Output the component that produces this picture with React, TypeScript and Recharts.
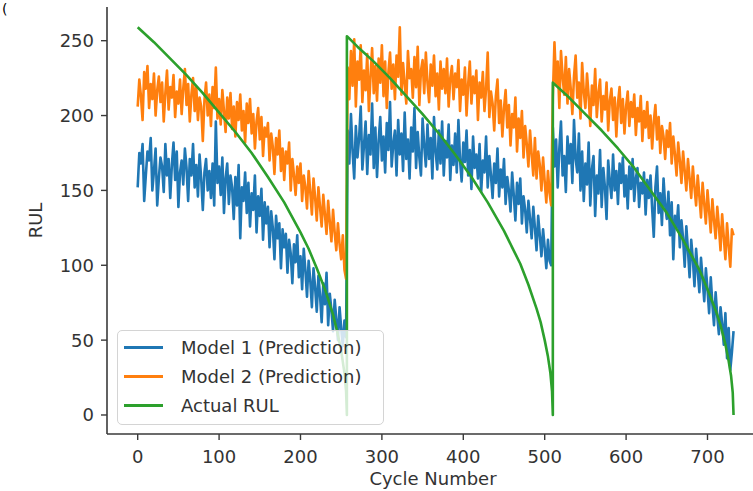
import { LineChart, Line, XAxis, YAxis, Legend } from "recharts";

const FONT = "'DejaVu Sans', sans-serif";
const AXIS = "#3a3a3a";
const TEXT = "#333";

// sampling grid of the two model predictions: one point every 2 cycles, three engines
const segStarts = [0, 258, 510];
const STEP = 2;

// Model 1 (blue)
const model1Seg1 = [
  152, 175, 168, 181, 143, 160, 176, 170, 185, 150,
  163, 178, 140, 158, 172, 166, 149, 181, 160, 171,
  145, 167, 182, 157, 176, 139, 162, 170, 154, 178,
  165, 143, 171, 160, 181, 152, 167, 146, 174, 158,
  137, 162, 171, 150, 163, 145, 168, 140, 196, 155,
  166, 147, 172, 135, 158, 168, 141, 160, 152, 131,
  159, 140, 167, 118, 152, 143, 162, 135, 155, 126,
  148, 137, 160, 122, 146, 133, 151, 117, 142, 128,
  139, 112, 136, 125, 104, 133, 118, 128, 98, 124,
  112, 121, 95, 117, 108, 88, 114, 102, 120, 92,
  106, 84, 111, 97, 79, 103, 90, 72, 98, 85,
  69, 93, 80, 62, 88, 74, 95, 60, 81, 70,
  56, 77, 64, 50, 72, 58, 46, 63, 52,
];
const model1Seg2 = [
  190, 168, 201, 176, 158, 193, 172, 185, 206, 164,
  180, 196, 161, 187, 174, 208, 165, 192, 159, 183,
  199, 170, 186, 162, 195, 177, 209, 166, 181, 190,
  160, 197, 174, 188, 163, 202, 171, 184, 158, 192,
  176, 205, 165, 189, 172, 160, 198, 180, 166, 194,
  171, 185, 158, 199, 176, 164, 190, 168, 196, 160,
  183, 172, 194, 157, 180, 167, 188, 162, 197, 170,
  156, 182, 169, 190, 160, 177, 151, 186, 165, 174,
  158, 181, 149, 170, 162, 186, 152, 173, 160, 145,
  168, 155, 178, 146, 164, 152, 171, 141, 159, 150,
  136, 162, 147, 130, 155, 141, 158, 128, 146, 137,
  122, 143, 131, 118, 139, 125, 110, 133, 120, 106,
  124, 112, 98, 117, 103, 100,
];
const model1Seg3 = [
  192, 166, 184, 152, 178, 196, 160, 173, 149, 186,
  168, 181, 155, 197, 171, 162, 188, 150, 176, 143,
  168, 154, 182, 140, 164, 173, 133, 160, 148, 177,
  139, 165, 152, 131, 170, 156, 145, 174, 150, 163,
  141, 168, 155, 172, 146, 160, 138, 166, 151, 171,
  143, 158, 165, 139, 155, 148, 162, 134, 157, 145,
  160, 138, 119, 152, 166, 135, 148, 127, 158, 140,
  131, 149, 120, 142, 104, 133, 125, 140, 112, 130,
  118, 99, 126, 110, 92, 117, 104, 86, 111, 96,
  82, 105, 91, 76, 98, 84, 68, 92, 74, 60,
  82, 66, 54, 72, 61, 47, 68, 38, 58, 30,
  42, 56,
];

// Model 2 (orange)
const model2Seg1 = [
  206, 224, 213, 197, 229, 218, 233, 205, 221, 211,
  228, 200, 217, 226, 209, 222, 196, 215, 230, 204,
  219, 212, 227, 199, 216, 208, 224, 201, 218, 231,
  207, 221, 196, 214, 225, 203, 219, 197, 212, 206,
  183, 210, 222, 200, 214, 193, 219, 205, 232, 198,
  211, 194, 217, 203, 189, 212, 198, 215, 191, 206,
  186, 209, 197, 214, 190, 203, 182, 208, 195, 211,
  188, 201, 178, 196, 205, 184, 199, 173, 192, 186,
  195, 170, 188, 179, 161, 185, 174, 190, 163, 178,
  157, 176, 168, 182, 150, 171, 160, 147, 166, 155,
  168, 143, 160, 152, 138, 163, 149, 134, 158, 145,
  130, 152, 139, 126, 147, 134, 121, 143, 129, 116,
  137, 122, 110, 128, 114, 104, 120, 97, 91,
];
const model2Seg2 = [
  232, 211, 243, 220, 251, 206, 236, 224, 247, 209,
  230, 217, 241, 203, 226, 245, 215, 233, 210, 238,
  222, 247, 213, 236, 205, 229, 242, 218, 234, 211,
  240, 226, 259, 214, 235, 221, 208, 243, 225, 231,
  212, 239, 219, 246, 207, 230, 237, 215, 242, 222,
  209, 234, 220, 240, 213, 228, 204, 236, 218, 231,
  215, 238, 206, 225, 233, 211, 228, 219, 237, 203,
  224, 214, 232, 200, 221, 236, 208, 226, 215, 230,
  197, 222, 212, 229, 203, 218, 242, 199, 216, 208,
  190, 213, 224, 195, 210, 186, 205, 217, 192, 207,
  180, 201, 192, 212, 176, 198, 185, 203, 172, 193,
  181, 166, 190, 174, 160, 185, 158, 176, 167, 150,
  172, 156, 142, 163, 148, 140,
];
const model2Seg3 = [
  212, 249, 221, 236, 205, 243, 226, 214, 239, 208,
  231, 218, 201, 226, 240, 212, 222, 198, 235, 216,
  205, 228, 213, 193, 220, 207, 231, 199, 215, 224,
  196, 213, 204, 222, 190, 210, 218, 197, 212, 186,
  208, 219, 195, 211, 188, 206, 216, 193, 209, 199,
  214, 187, 205, 196, 213, 183, 203, 192, 209, 185,
  200, 178, 196, 207, 184, 199, 175, 193, 186, 171,
  190, 179, 195, 168, 186, 174, 160, 182, 170, 155,
  176, 163, 150, 171, 158, 145, 166, 152, 140, 160,
  146, 132, 155, 141, 128, 150, 136, 122, 144, 130,
  118, 139, 126, 110, 134, 119, 104, 128, 113, 99,
  124, 120,
];

// Actual RUL (green)
const rulCycles = [
  0, 20, 40, 60, 80, 100, 120, 140, 160, 180, 200, 210, 220, 230, 240, 245, 250, 254, 256, 257,
  257, 270, 290, 310, 330, 350, 370, 390, 410, 430, 450, 460, 470, 480, 490, 495, 500, 504, 507, 509, 510,
  510, 530, 550, 570, 590, 610, 630, 650, 670, 680, 690, 700, 710, 716, 722, 726, 729, 731, 732,
];
const rulValues = [
  259, 249, 238, 227, 215, 202, 189, 175, 159, 142, 122, 111, 98, 84, 67, 56, 43, 28, 16, 0,
  253, 246, 236, 225, 213, 201, 188, 174, 159, 142, 123, 112, 101, 87, 71, 62, 50, 39, 28, 16, 0,
  222, 212, 201, 190, 178, 165, 150, 135, 117, 107, 97, 84, 70, 60, 47, 36, 26, 15, 0,
];

const xTicks = [0, 100, 200, 300, 400, 500, 600, 700];
const yTicks = [0, 50, 100, 150, 200, 250];
const X_DOMAIN: [number, number] = [-37.7, 755.9];
const Y_DOMAIN: [number, number] = [-12.7, 272.5];

const SERIES_NAMES = ["Model 1 (Prediction)", "Model 2 (Prediction)", "Actual RUL"];

function buildPrediction(segments: number[][]) {
  const out: { x: number; y: number }[] = [];
  segments.forEach((vals, s) => {
    vals.forEach((v, i) => out.push({ x: segStarts[s] + i * STEP, y: v }));
  });
  return out;
}

const model1Data = buildPrediction([model1Seg1, model1Seg2, model1Seg3]);
const model2Data = buildPrediction([model2Seg1, model2Seg2, model2Seg3]);
const rulData = rulCycles.map((c, i) => ({ x: c, y: rulValues[i] }));

const tickStyle = { fill: TEXT, fontSize: 18, fontFamily: FONT };

function LegendBox(props: any) {
  const items = [...(props.payload || [])].sort(
    (a: any, b: any) => SERIES_NAMES.indexOf(a.value) - SERIES_NAMES.indexOf(b.value)
  );
  return (
    <div
      style={{
        width: 265,
        height: 91,
        background: "rgba(255,255,255,0.8)",
        border: "1px solid #d4d4d4",
        borderRadius: 5,
        paddingTop: 2,
        boxSizing: "content-box",
        fontFamily: FONT,
        fontSize: 18,
        color: TEXT,
      }}
    >
      {items.map((it: any) => (
        <div key={it.value} style={{ height: 29, display: "flex", alignItems: "center" }}>
          <div style={{ width: 39, height: 3, marginLeft: 6, background: it.color }} />
          <span style={{ marginLeft: 18, whiteSpace: "nowrap" }}>{it.value}</span>
        </div>
      ))}
    </div>
  );
}

export default function App() {
  return (
    <div style={{ position: "absolute", left: 0, top: 0, width: 753, height: 491, background: "#fff", overflow: "hidden" }}>
      <LineChart width={753} height={491} margin={{ top: 7, right: 0, bottom: 0, left: 0 }}>
        {/* top spine */}
        <XAxis
          xAxisId="top"
          orientation="top"
          type="number"
          dataKey="x"
          domain={X_DOMAIN}
          allowDataOverflow
          height={0}
          tick={false}
          tickLine={false}
          axisLine={{ stroke: AXIS, strokeWidth: 1.6 }}
        />
        <XAxis
          type="number"
          dataKey="x"
          domain={X_DOMAIN}
          allowDataOverflow
          ticks={xTicks}
          height={57}
          tickSize={6}
          tickMargin={10}
          tick={tickStyle}
          tickLine={{ stroke: AXIS, strokeWidth: 1.4 }}
          axisLine={{ stroke: AXIS, strokeWidth: 1.6 }}
          label={{
            content: (p: any) => (
              <text
                x={p.viewBox.x + p.viewBox.width / 2 + 3}
                y={p.viewBox.y + 51}
                textAnchor="middle"
                fill={TEXT}
                fontSize={18}
                fontFamily={FONT}
              >
                Cycle Number
              </text>
            ),
          }}
        />
        <YAxis
          type="number"
          domain={Y_DOMAIN}
          allowDataOverflow
          ticks={yTicks}
          width={107}
          tickSize={6}
          tickMargin={7}
          tick={tickStyle}
          tickLine={{ stroke: AXIS, strokeWidth: 1.4 }}
          axisLine={{ stroke: AXIS, strokeWidth: 1.6 }}
          label={{
            content: (p: any) => {
              const cx = 35;
              const cy = p.viewBox.y + p.viewBox.height / 2;
              return (
                <text
                  x={cx}
                  y={cy}
                  transform={`rotate(-90 ${cx} ${cy})`}
                  textAnchor="middle"
                  dominantBaseline="central"
                  fill={TEXT}
                  fontSize={18}
                  fontFamily={FONT}
                >
                  RUL
                </text>
              );
            },
          }}
        />
        <Line
          data={model1Data}
          dataKey="y"
          name={SERIES_NAMES[0]}
          stroke="#1f77b4"
          strokeWidth={2.6}
          strokeLinejoin="round"
          dot={false}
          activeDot={false}
          isAnimationActive={false}
        />
        <Line
          data={model2Data}
          dataKey="y"
          name={SERIES_NAMES[1]}
          stroke="#ff7f0e"
          strokeWidth={2.6}
          strokeLinejoin="round"
          dot={false}
          activeDot={false}
          isAnimationActive={false}
        />
        <Line
          data={rulData}
          dataKey="y"
          name={SERIES_NAMES[2]}
          stroke="#2ca02c"
          strokeWidth={2.6}
          strokeLinejoin="round"
          dot={false}
          activeDot={false}
          isAnimationActive={false}
        />
        <Legend
          layout="vertical"
          align="center"
          verticalAlign="middle"
          content={<LegendBox />}
          wrapperStyle={{ left: 117, top: 330, width: 267 }}
        />
      </LineChart>
      <span style={{ position: "absolute", left: 2, top: 1, fontSize: 14, fontFamily: FONT, color: "#000" }}>(</span>
    </div>
  );
}
